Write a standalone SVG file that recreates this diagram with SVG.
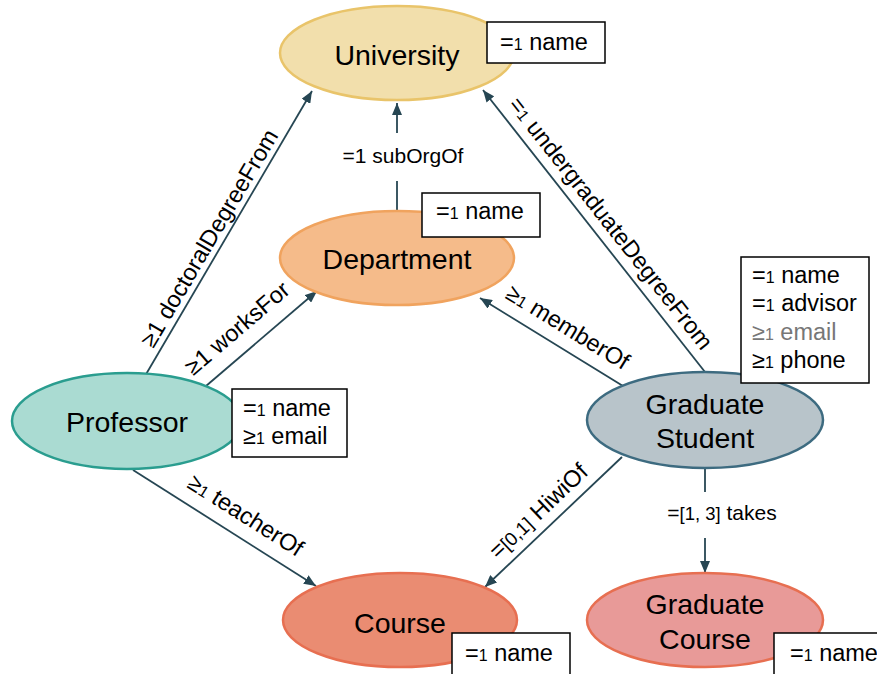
<svg xmlns="http://www.w3.org/2000/svg" width="877" height="674" viewBox="0 0 877 674">
  <style>
    text { font-family: "Liberation Sans", Arial, sans-serif; fill: #000; }
    .node-label { font-size: 28.5px; text-anchor: middle; }
    .box { fill: #fff; stroke: #000; stroke-width: 1.5; }
    .box-text { font-size: 23.5px; }
    .edge { fill: none; stroke: #264653; stroke-width: 1.8; }
    .edge-label { font-size: 23.5px; text-anchor: middle; }
    .sub { font-size: 0.68em; }
    .muted { fill: #777; }
  </style>
  <defs>
    <marker id="arrow" markerUnits="userSpaceOnUse" markerWidth="12" markerHeight="10" refX="12" refY="5" orient="auto">
      <path d="M0,0 L12,5 L0,10 z" fill="#264653"/>
    </marker>
  </defs>

  <!-- connectors -->
  <g id="connectors">
    <path class="edge" d="M145,376 L312,91" marker-end="url(#arrow)"/>
    <path class="edge" d="M206,386 L317,291" marker-end="url(#arrow)"/>
    <path class="edge" d="M397,210 L397,181"/>
    <path class="edge" d="M397,133 L397,103" marker-end="url(#arrow)"/>
    <path class="edge" d="M705,372 L483,90" marker-end="url(#arrow)"/>
    <path class="edge" d="M623,386 L480,298" marker-end="url(#arrow)"/>
    <path class="edge" d="M133,470 L316,586" marker-end="url(#arrow)"/>
    <path class="edge" d="M622,457 L485,587" marker-end="url(#arrow)"/>
    <path class="edge" d="M705,468 L705,492"/>
    <path class="edge" d="M705,538 L705,573" marker-end="url(#arrow)"/>

    <text class="edge-label" transform="translate(209,238) rotate(-59.5)" dy="0.35em">≥1 doctoralDegreeFrom</text>
    <text class="edge-label" transform="translate(237,328) rotate(-40.6)" dy="0.35em">≥1 worksFor</text>
    <text class="edge-label" x="403" y="163" style="font-size:21px">=1 subOrgOf</text>
    <text class="edge-label" transform="translate(611,223) rotate(51.8)" dy="0.35em">=<tspan class="sub">1</tspan> undergraduateDegreeFrom</text>
    <text class="edge-label" transform="translate(568,327) rotate(31.6)" dy="0.35em">≥<tspan class="sub">1</tspan> memberOf</text>
    <text class="edge-label" transform="translate(246,515) rotate(32.4)" dy="0.35em">≥<tspan class="sub">1</tspan> teacherOf</text>
    <text class="edge-label" transform="translate(538,511) rotate(-43.5)" dy="0.35em">=<tspan style="font-size:0.8em">[0,1]</tspan> HiwiOf</text>
    <text class="edge-label" x="722" y="520" style="font-size:21px">=<tspan style="font-size:0.88em">[1, 3]</tspan> takes</text>
  </g>

  <!-- University -->
  <g id="university">
    <ellipse cx="397" cy="53" rx="117" ry="47" fill="#f2dfac" stroke="#e9c46a" stroke-width="2.5"/>
    <text class="node-label" x="397" y="65">University</text>
    <rect class="box" x="487" y="22" width="118" height="41"/>
    <text class="box-text" x="500" y="50">=<tspan class="sub">1</tspan> name</text>
  </g>

  <!-- Department -->
  <g id="department">
    <ellipse cx="397" cy="258" rx="117" ry="47" fill="#f5bb8a" stroke="#f0a35e" stroke-width="2.5"/>
    <text class="node-label" x="397" y="269">Department</text>
    <rect class="box" x="422" y="193" width="118" height="44"/>
    <text class="box-text" x="436" y="219">=<tspan class="sub">1</tspan> name</text>
  </g>

  <!-- Professor -->
  <g id="professor">
    <ellipse cx="127" cy="421" rx="115" ry="48" fill="#aadbd2" stroke="#2a9d8f" stroke-width="2.5"/>
    <text class="node-label" x="127" y="432">Professor</text>
    <rect class="box" x="232" y="389" width="115" height="68"/>
    <text class="box-text" x="243" y="416">=<tspan class="sub">1</tspan> name</text>
    <text class="box-text" x="243" y="444">≥<tspan class="sub">1</tspan> email</text>
  </g>

  <!-- Graduate Student -->
  <g id="graduate-student">
    <ellipse cx="705" cy="420" rx="118" ry="48" fill="#b8c4ca" stroke="#3d6b80" stroke-width="2.5"/>
    <text class="node-label" x="705" y="414">Graduate</text>
    <text class="node-label" x="705" y="448">Student</text>
    <rect class="box" x="741" y="257" width="128" height="126"/>
    <text class="box-text" x="752" y="283">=<tspan class="sub">1</tspan> name</text>
    <text class="box-text" x="752" y="311">=<tspan class="sub">1</tspan> advisor</text>
    <text class="box-text muted" x="752" y="340">≥<tspan class="sub">1</tspan> email</text>
    <text class="box-text" x="752" y="368">≥<tspan class="sub">1</tspan> phone</text>
  </g>

  <!-- Course -->
  <g id="course">
    <ellipse cx="400" cy="620" rx="117" ry="47" fill="#ea8c72" stroke="#e76f51" stroke-width="2.5"/>
    <text class="node-label" x="400" y="633">Course</text>
    <rect class="box" x="452" y="633" width="118" height="50"/>
    <text class="box-text" x="465" y="661">=<tspan class="sub">1</tspan> name</text>
  </g>

  <!-- Graduate Course -->
  <g id="graduate-course">
    <ellipse cx="705" cy="620" rx="118" ry="47" fill="#e89a98" stroke="#e76f51" stroke-width="2.5"/>
    <text class="node-label" x="705" y="614">Graduate</text>
    <text class="node-label" x="705" y="649">Course</text>
    <rect class="box" x="774" y="633" width="118" height="50"/>
    <text class="box-text" x="790" y="661">=<tspan class="sub">1</tspan> name</text>
  </g>
</svg>
